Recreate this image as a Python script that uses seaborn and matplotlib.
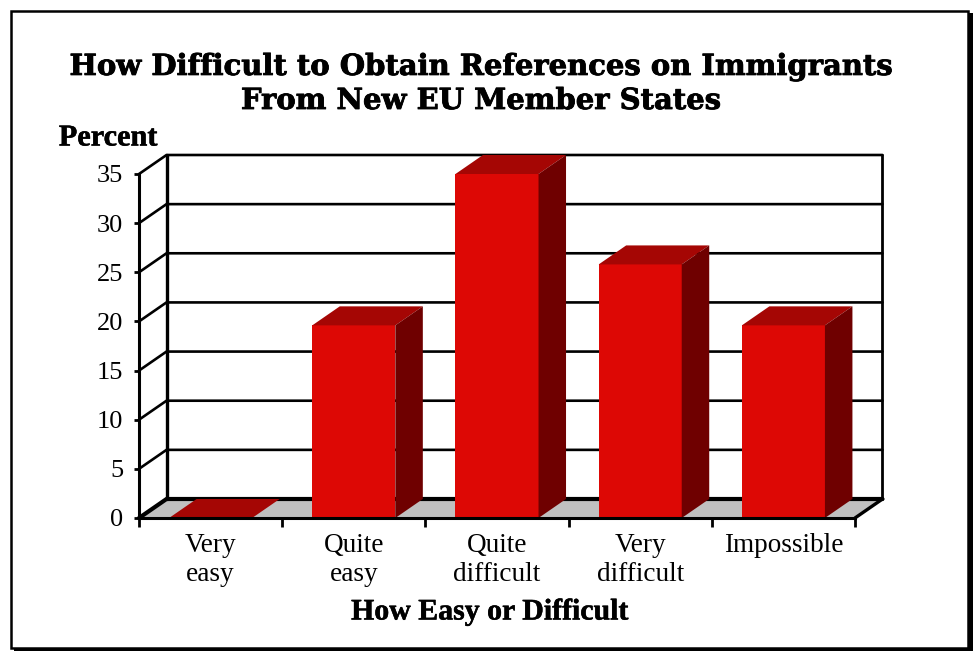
import matplotlib
matplotlib.use("Agg")
import matplotlib.pyplot as plt
import matplotlib.patheffects as pe
from matplotlib.patches import Rectangle
import seaborn as sns
import pandas as pd

categories = ["Very\neasy", "Quite\neasy", "Quite\ndifficult", "Very\ndifficult", "Impossible"]
percent = [0, 19.6, 35, 25.8, 19.6]
y_ticks = [0, 5, 10, 15, 20, 25, 30, 35]
title = "How Difficult to Obtain References on Immigrants\nFrom New EU Member States"

W, H = 973, 651
FRONT, TOP, SIDE, FLOOR = "#dd0805", "#a50604", "#6f0000", "#c0c0c0"
SERIF = "Liberation Serif"

sns.set_theme(style="white")
plt.rcParams["font.family"] = [SERIF]

fig = plt.figure(figsize=(W / 100, H / 100), dpi=100, facecolor="white")
# panel outline with heavier right/bottom edge
bg = fig.add_axes([0, 0, 1, 1], zorder=0)
bg.set_xlim(0, W); bg.set_ylim(H, 0); bg.axis("off")
bg.add_patch(Rectangle((14, 13), W, H, fc="black", ec="none"))
bg.add_patch(Rectangle((11, 11), 957, 637, fc="white", ec="black", lw=1.8))

x0, x1, y0, y1 = 139, 855, 518, 174
ax = fig.add_axes([x0 / W, 1 - y0 / H, (x1 - x0) / W, (y0 - y1) / H], zorder=1)
ax.patch.set_alpha(0)

df = pd.DataFrame({"category": categories, "percent": percent})
sns.barplot(data=df, x="category", y="percent", order=categories, color=FRONT,
            saturation=1, width=0.58, ax=ax, zorder=5, linewidth=0)
ax.set_xlim(-0.5, len(categories) - 0.5)
ax.set_ylim(0, 35)

# depth of the pseudo-3D box, in data units
dx = 27.5 / ((x1 - x0) / len(categories))
dy = 19 / ((y0 - y1) / 35)
xl, xr = ax.get_xlim()

ax.fill([xl, xr, xr + dx, xl + dx], [0, 0, dy, dy], color=FLOOR, lw=0, zorder=1, clip_on=False)
for v in y_ticks:
    lw = 3.0 if v == 0 else 1.9
    ax.plot([xl, xl + dx, xr + dx], [v, v + dy, v + dy], color="black", lw=lw,
            zorder=2, clip_on=False, solid_joinstyle="miter")
ax.plot([xl + dx, xl + dx], [dy, 35 + dy], color="black", lw=2.4, zorder=2, clip_on=False)
ax.plot([xr + dx, xr + dx], [dy, 35 + dy], color="black", lw=2.0, zorder=2, clip_on=False)
ax.plot([xr, xr + dx], [0, dy], color="black", lw=2.4, zorder=2, clip_on=False)

for bar in ax.patches:
    if not isinstance(bar, Rectangle):
        continue
    l, w, h = bar.get_x(), bar.get_width(), bar.get_height()
    r = l + w
    ax.fill([l, r, r + dx, l + dx], [h, h, h + dy, h + dy], color=TOP, lw=0, zorder=6, clip_on=False)
    ax.fill([r, r + dx, r + dx, r], [0, dy, h + dy, h], color=SIDE, lw=0, zorder=6, clip_on=False)

for s in ["top", "right"]:
    ax.spines[s].set_visible(False)
for s in ["left", "bottom"]:
    ax.spines[s].set_linewidth(2.2)
    ax.spines[s].set_color("black")
    ax.spines[s].set_zorder(8)

ax.set_yticks(y_ticks, [str(v) for v in y_ticks])
ax.tick_params(axis="y", length=3.5, width=2, color="black", pad=8, labelsize=19, labelcolor="black", left=True)
ax.set_xticks(range(len(categories)), categories)
ax.set_xticks([i - 0.5 for i in range(len(categories) + 1)], minor=True)
ax.tick_params(axis="x", which="major", length=0, pad=11, labelsize=19.6, labelcolor="black", bottom=False)
ax.tick_params(axis="x", which="minor", length=6.5, width=2, color="black", bottom=True)
for t in ax.get_xticklabels():
    t.set_linespacing(1.22)
ax.set_xlabel("")
ax.set_ylabel("")

heavy = [pe.withStroke(linewidth=0.35, foreground="black")]
fig.text(481 / W, 1 - 109 / H, title, ha="center", va="baseline", fontsize=20.9,
         fontweight="bold", color="black", linespacing=1.22, family="DejaVu Serif",
         path_effects=[pe.withStroke(linewidth=0.6, foreground="black")])
fig.text(108 / W, 1 - 138 / H, "Percent", ha="center", va="center", fontsize=21.8,
         fontweight="bold", color="black", path_effects=heavy)
fig.text(490 / W, 1 - 612 / H, "How Easy or Difficult", ha="center", va="center", fontsize=21.5,
         fontweight="bold", color="black", path_effects=heavy)

fig.savefig("out.png", dpi=100)
